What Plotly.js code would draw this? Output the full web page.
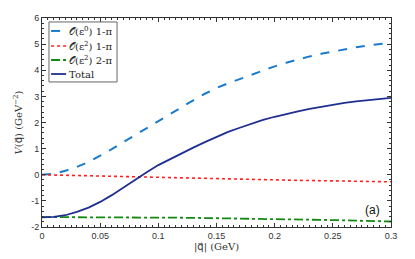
<!DOCTYPE html>
<html><head><meta charset="utf-8">
<script src="https://cdn.plot.ly/plotly-3.0.1.min.js"></script>
<style>html,body{margin:0;padding:0;background:#fff}#c{width:415px;height:259px}</style>
</head><body><div id="c"></div>
<script>
const q = [0,0.01,0.02,0.03,0.04,0.05,0.06,0.07,0.08,0.09,0.10,0.11,0.12,0.13,0.14,0.15,0.16,0.17,0.18,0.19,0.20,0.21,0.22,0.23,0.24,0.25,0.26,0.27,0.28,0.29,0.30];
const lo1pi = [0,0.04,0.15,0.30,0.49,0.72,0.98,1.25,1.52,1.78,2.05,2.32,2.58,2.85,3.10,3.32,3.50,3.67,3.84,4.00,4.15,4.29,4.42,4.53,4.63,4.72,4.81,4.88,4.95,5.00,5.05];
const nlo1pi = [0,-0.01,-0.025,-0.04,-0.055,-0.07,-0.08,-0.09,-0.10,-0.11,-0.12,-0.13,-0.14,-0.15,-0.16,-0.165,-0.17,-0.18,-0.19,-0.195,-0.20,-0.21,-0.215,-0.22,-0.23,-0.235,-0.24,-0.25,-0.255,-0.26,-0.27];
const nlo2pi = [-1.62,-1.62,-1.62,-1.62,-1.62,-1.62,-1.62,-1.625,-1.63,-1.63,-1.635,-1.64,-1.645,-1.65,-1.655,-1.66,-1.665,-1.67,-1.68,-1.685,-1.69,-1.70,-1.71,-1.715,-1.725,-1.735,-1.745,-1.755,-1.765,-1.78,-1.79];
const total = [-1.63,-1.61,-1.55,-1.42,-1.26,-1.04,-0.78,-0.48,-0.18,0.10,0.37,0.60,0.82,1.04,1.25,1.45,1.64,1.80,1.96,2.10,2.22,2.33,2.43,2.52,2.60,2.67,2.75,2.81,2.86,2.90,2.94];
const seriesNames = ['𝒪(ε<sup>0</sup>) 1-π','𝒪(ε<sup>2</sup>) 1-π','𝒪(ε<sup>2</sup>) 2-π','Total'];
const seriesColors = ['#1a7bcc','#ff2020','#128a12','#1f2f8f'];
const seriesDash = ['dash','dot','dashdot','solid'];
const seriesWidth = [2,1.6,1.8,1.8];
const xTickVals = [0,0.05,0.1,0.15,0.2,0.25,0.3];
const xTickText = ['0','0.05','0.1','0.15','0.2','0.25','0.3'];
const yTickVals = [-2,-1,0,1,2,3,4,5,6];
const yTickText = ['-2','-1','0','1','2','3','4','5','6'];
const ys = [lo1pi,nlo1pi,nlo2pi,total];

const traces = ys.map((y,i)=>({x:q,y:y,name:seriesNames[i],mode:'lines',showlegend:false,
  line:{color:seriesColors[i],width:seriesWidth[i],dash:seriesDash[i]}}));

const serif = 'DejaVu Serif, Liberation Serif, serif';
const qvec = '<span style="font-family:DejaVu Sans">q⃗</span>';
// custom legend (paper coords)
const legY = [0.938,0.866,0.799,0.732];
const shapes = [{type:'rect',xref:'paper',yref:'paper',x0:0.020,x1:0.215,y0:0.694,y1:0.981,
  line:{color:'#666',width:1},fillcolor:'#fff',layer:'above'}];
const annotations = [];
legY.forEach((yy,i)=>{
  shapes.push({type:'line',xref:'paper',yref:'paper',x0:0.026,x1:0.069,y0:yy,y1:yy,layer:'above',
    line:{color:seriesColors[i],width:seriesWidth[i],dash:seriesDash[i]}});
  annotations.push({xref:'paper',yref:'paper',x:0.072,y:yy,xanchor:'left',yanchor:'middle',showarrow:false,
    text:seriesNames[i],font:{family:serif,size:10,color:'#222'}});
});
annotations.push({x:0.284,y:-1.34,xref:'x',yref:'y',text:'(a)',showarrow:false,
    font:{family:'Liberation Sans, Arial, sans-serif',size:12,color:'#111'}});

const axBase = {showline:true,linecolor:'#333',linewidth:1,mirror:'allticks',ticks:'inside',ticklen:4,tickcolor:'#333',
  showgrid:false,zeroline:false,tickfont:{family:'Liberation Sans, Arial, sans-serif',size:9,color:'#333'}};
const layout = {
  width:415,height:259,margin:{l:42,r:24,t:18,b:32},paper_bgcolor:'#fff',plot_bgcolor:'#fff',
  showlegend:false,shapes:shapes,annotations:annotations,
  xaxis:Object.assign({},axBase,{range:[0,0.3],tickmode:'array',tickvals:xTickVals,ticktext:xTickText,
    minor:{dtick:0.005,ticklen:2,ticks:'inside',tickcolor:'#333'},
    title:{text:'|'+qvec+'| (GeV)',font:{family:serif,size:10,color:'#333'},standoff:1}}),
  yaxis:Object.assign({},axBase,{range:[-2,6],tickmode:'array',tickvals:yTickVals,ticktext:yTickText,
    minor:{dtick:0.2,ticklen:2,ticks:'inside',tickcolor:'#333'},
    title:{text:'<i>V</i>('+qvec+') (GeV<sup>−2</sup>)',font:{family:serif,size:10,color:'#333'},standoff:6}})
};
Plotly.newPlot('c',traces,layout,{staticPlot:true});
</script></body></html>
